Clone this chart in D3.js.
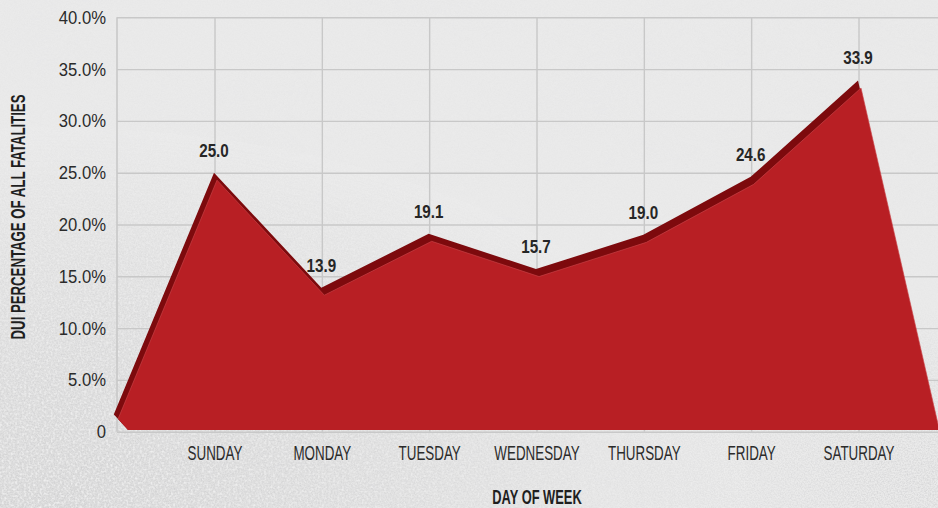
<!DOCTYPE html>
<html>
<head>
<meta charset="utf-8">
<script src="https://cdn.jsdelivr.net/npm/d3@7"></script>
<style>
  html, body { margin: 0; padding: 0; background: #e8e8e8; overflow: hidden; }
  svg { display: block; }
  text { font-family: "Liberation Sans", Arial, sans-serif; }
</style>
</head>
<body>
<svg id="chart" width="938" height="508"></svg>
<script>
// Share of all traffic fatalities that involved DUI, by day of week (%)
const days = ["SUNDAY", "MONDAY", "TUESDAY", "WEDNESDAY", "THURSDAY", "FRIDAY", "SATURDAY"];
const duiShare = [25.0, 13.9, 19.1, 15.7, 19.0, 24.6, 33.9];
const yTicks = [0, 5, 10, 15, 20, 25, 30, 35, 40];
const yTickLabels = ["0", "5.0%", "10.0%", "15.0%", "20.0%", "25.0%", "30.0%", "35.0%", "40.0%"];
const valueLabels = ["25.0", "13.9", "19.1", "15.7", "19.0", "24.6", "33.9"];
// the area falls away to zero just beyond the first and last day
const leadIn = { pos: -1, value: 0 };
const tailOut = { pos: 6.75, value: 0 };

const W = 938, H = 508;
const plot = { left: 117, right: 938, top: 17.3, bottom: 431.7 };

const svg = d3.select("#chart");
const defs = svg.append("defs");

// ---- snowy backdrop ----
const grain = defs.append("filter").attr("id", "grain")
  .attr("x", 0).attr("y", 0).attr("width", "100%").attr("height", "100%");
grain.append("feTurbulence").attr("type", "fractalNoise")
  .attr("baseFrequency", 0.7).attr("numOctaves", 2).attr("seed", 7);
grain.append("feColorMatrix").attr("type", "matrix")
  .attr("values", "0 0 0 0 0.60  0 0 0 0 0.60  0 0 0 0 0.61  1.8 0 0 0 -0.66");

const flakes = defs.append("filter").attr("id", "flakes")
  .attr("x", 0).attr("y", 0).attr("width", "100%").attr("height", "100%");
flakes.append("feTurbulence").attr("type", "fractalNoise")
  .attr("baseFrequency", 0.45).attr("numOctaves", 1).attr("seed", 3);
flakes.append("feColorMatrix").attr("type", "matrix")
  .attr("values", "0 0 0 0 1  0 0 0 0 1  0 0 0 0 1  2.2 0 0 0 -1.0");

const cloud = defs.append("filter").attr("id", "cloud")
  .attr("x", 0).attr("y", 0).attr("width", "100%").attr("height", "100%");
cloud.append("feTurbulence").attr("type", "fractalNoise")
  .attr("baseFrequency", "0.006 0.012").attr("numOctaves", 3).attr("seed", 11);
cloud.append("feColorMatrix").attr("type", "matrix")
  .attr("values", "0 0 0 0 0.80  0 0 0 0 0.80  0 0 0 0 0.81  0.9 0 0 0 -0.38");

const grainFade = defs.append("radialGradient").attr("id", "grainFade")
  .attr("cx", 0.05).attr("cy", 1.0).attr("r", 0.75);
grainFade.append("stop").attr("offset", "0%").attr("stop-color", "#fff").attr("stop-opacity", 1);
grainFade.append("stop").attr("offset", "55%").attr("stop-color", "#fff").attr("stop-opacity", 0.55);
grainFade.append("stop").attr("offset", "100%").attr("stop-color", "#fff").attr("stop-opacity", 0.06);
defs.append("mask").attr("id", "grainMask")
  .append("rect").attr("width", W).attr("height", H).attr("fill", "url(#grainFade)");

const grainFade2 = defs.append("radialGradient").attr("id", "grainFade2")
  .attr("cx", 1.0).attr("cy", 0.95).attr("r", 0.35);
grainFade2.append("stop").attr("offset", "0%").attr("stop-color", "#fff").attr("stop-opacity", 0.8);
grainFade2.append("stop").attr("offset", "100%").attr("stop-color", "#fff").attr("stop-opacity", 0);
defs.append("mask").attr("id", "grainMask2")
  .append("rect").attr("width", W).attr("height", H).attr("fill", "url(#grainFade2)");

svg.append("rect").attr("width", W).attr("height", H).attr("fill", "#ececec");
svg.append("rect").attr("width", W).attr("height", H).attr("filter", "url(#cloud)").attr("opacity", 0.35);
svg.append("rect").attr("width", W).attr("height", H).attr("fill", "#d4d4d4").attr("mask", "url(#grainMask)").attr("opacity", 0.6);
svg.append("rect").attr("width", W).attr("height", H).attr("filter", "url(#grain)").attr("mask", "url(#grainMask)");
svg.append("rect").attr("width", W).attr("height", H).attr("filter", "url(#flakes)").attr("mask", "url(#grainMask)").attr("opacity", 0.8);
svg.append("rect").attr("width", W).attr("height", H).attr("filter", "url(#grain)").attr("mask", "url(#grainMask2)");

// ---- scales ----
const xBand = d3.scalePoint().domain(days).range([215, 859]);
const xPos = d3.scaleLinear().domain([0, days.length - 1]).range([215, 859]);
const y = d3.scaleLinear().domain([0, 40]).range([plot.bottom, plot.top]);

// condensed lettering: move each text's anchor into a transform and squeeze it horizontally
const condense = (sel, k, extra = "") => sel.each(function () {
  const t = d3.select(this);
  const x = +t.attr("x") || 0, yy = +t.attr("y") || 0;
  t.attr("x", 0).attr("y", 0)
    .attr("transform", `translate(${x},${yy})${extra} scale(${k},1)`);
});

// ---- grid ----
const gridColor = "#c8c8c8";
const yAxis = svg.append("g").attr("transform", `translate(${plot.left},0)`)
  .call(d3.axisLeft(y).tickValues(yTicks)
    .tickSize(-(plot.right - plot.left)).tickPadding(11)
    .tickFormat((d, i) => yTickLabels[i]));
yAxis.select(".domain").remove();
yAxis.selectAll(".tick line").attr("stroke", gridColor).attr("stroke-width", 1.4);
yAxis.selectAll(".tick text").attr("fill", "#2b2b2b").attr("font-size", 18.5)
  .attr("font-family", null)
  .call(condense, 0.9);

svg.append("g").selectAll("line").data(days).join("line")
  .attr("x1", d => xBand(d)).attr("x2", d => xBand(d))
  .attr("y1", plot.top).attr("y2", plot.bottom)
  .attr("stroke", gridColor).attr("stroke-width", 1.4);
svg.append("line").attr("x1", plot.left).attr("x2", plot.left)
  .attr("y1", plot.top).attr("y2", plot.bottom)
  .attr("stroke", gridColor).attr("stroke-width", 1.6);

// ---- 3D area ----
const pts = [leadIn, ...duiShare.map((v, i) => ({ pos: i, value: v })), tailOut];
const depth = { back: [-1, 0], front: [2, 7.5] };

const clip = defs.append("clipPath").attr("id", "areaClip");
clip.append("polygon").attr("points", [
  [plot.left - 5, 0], [W + 5, 0], [W + 5, plot.bottom - 1.7],
  [plot.left + 11, plot.bottom - 1.7], [plot.left - 1, plot.bottom - 15],
  [plot.left - 5, plot.bottom - 19]
].map(p => p.join(",")).join(" "));

const areaAt = ([dx, dy]) => d3.area()
  .x(d => xPos(d.pos) + dx)
  .y0(y(0) + dy)
  .y1(d => y(d.value) + dy);
const lineAt = ([dx, dy]) => d3.line()
  .x(d => xPos(d.pos) + dx)
  .y(d => y(d.value) + dy);

const areaG = svg.append("g").attr("clip-path", "url(#areaClip)");
areaG.append("path").attr("d", areaAt(depth.back)(pts)).attr("fill", "#7d0a0d");
areaG.append("path").attr("d", areaAt(depth.front)(pts)).attr("fill", "#b81f24");
areaG.append("path").attr("d", lineAt(depth.front)(pts))
  .attr("fill", "none").attr("stroke", "#c9464a").attr("stroke-width", 0.8).attr("opacity", 0.8);

// ---- value labels ----
svg.append("g").selectAll("text").data(duiShare).join("text")
  .attr("x", (d, i) => xPos(i) - 1)
  .attr("y", d => y(d) - 16)
  .attr("text-anchor", "middle")
  .attr("font-size", 19).attr("font-weight", "bold").attr("fill", "#262626")
  .text((d, i) => valueLabels[i])
  .call(condense, 0.8);

// ---- category axis ----
svg.append("g").selectAll("text").data(days).join("text")
  .attr("x", d => xBand(d))
  .attr("y", plot.bottom + 28.5)
  .attr("text-anchor", "middle")
  .attr("font-size", 20).attr("fill", "#2b2b2b")
  .text(d => d)
  .call(condense, 0.67);

// ---- axis titles ----
svg.append("text")
  .attr("x", 537).attr("y", 504)
  .attr("text-anchor", "middle")
  .attr("font-size", 19.5).attr("font-weight", "bold").attr("fill", "#1f1f1f")
  .text("DAY OF WEEK")
  .call(condense, 0.66);

const yTitle = svg.append("text")
  .attr("text-anchor", "middle")
  .attr("font-size", 20).attr("font-weight", "bold").attr("fill", "#1f1f1f")
  .text("DUI PERCENTAGE OF ALL FATALITIES");
const yTitleK = 245 / yTitle.node().getComputedTextLength();
yTitle.attr("transform", `translate(25,217) rotate(-90) scale(${yTitleK},1)`);
</script>
</body>
</html>
